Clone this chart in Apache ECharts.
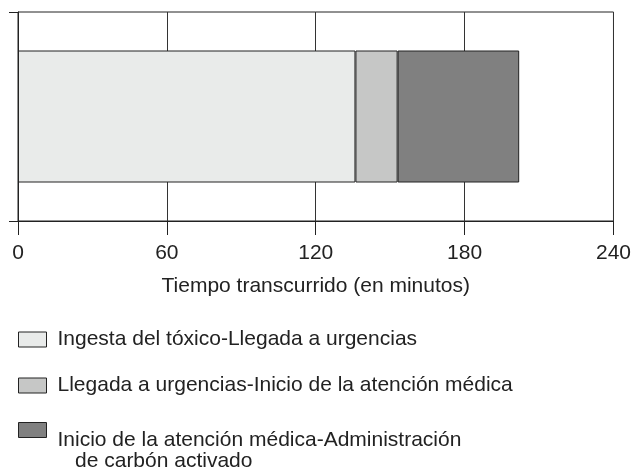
<!DOCTYPE html>
<html>
<head>
<meta charset="utf-8">
<title>Tiempo transcurrido</title>
<script src="https://cdn.jsdelivr.net/npm/echarts@6/dist/echarts.min.js"></script>
<style>
  html, body { margin: 0; padding: 0; background: #fff; }
  #chart { width: 634px; height: 471px; }
</style>
</head>
<body>
<div id="chart"></div>
<script>
// datos (minutos)
var categories = [''];
var tramoNames = [
  'Ingesta del tóxico-Llegada a urgencias',
  'Llegada a urgencias-Inicio de la atención médica',
  'Inicio de la atención médica-Administración'
];
var segundaLinea = '   de carbón activado';
var ingestaLlegada = [136];
var llegadaInicio = [17];
var inicioCarbon = [49];
var xTicks = [0, 60, 120, 180, 240];

var colors = ['#e9ebea', '#c6c7c6', '#808080'];
var font = 'Liberation Sans, Arial, sans-serif';
var ink = '#222';

var chart = echarts.init(document.getElementById('chart'));

function serie(name, data, color) {
  return {
    name: name,
    type: 'bar',
    stack: 'tiempo',
    barWidth: 132,
    data: data,
    itemStyle: { color: color, borderColor: ink, borderWidth: 1 },
    silent: true
  };
}

function leyenda(name, top, formatter) {
  var l = {
    data: [name],
    orient: 'vertical',
    left: 18,
    top: top,
    padding: 0,
    icon: 'rect',
    itemWidth: 28,
    itemHeight: 15,
    selectedMode: false,
    itemStyle: { borderColor: ink, borderWidth: 1 },
    textStyle: {
      fontFamily: font, fontSize: 21, color: ink,
      lineHeight: 21, padding: [0, 0, 0, 6],
      rich: { s: { lineHeight: 42, fontSize: 21 } }
    }
  };
  if (formatter) l.formatter = formatter;
  return l;
}

var option = {
  animation: false,
  backgroundColor: '#fff',
  grid: {
    left: 18, right: 18, top: 12, bottom: 250,
    show: true, borderColor: ink, borderWidth: 1
  },
  xAxis: {
    type: 'value',
    min: xTicks[0],
    max: xTicks[xTicks.length - 1],
    interval: 60,
    name: 'Tiempo transcurrido (en minutos)',
    nameLocation: 'middle',
    nameGap: 55,
    nameTextStyle: { fontFamily: font, fontSize: 21, color: ink },
    axisLine: { show: true, lineStyle: { color: ink, width: 1 } },
    axisTick: { show: true, length: 14, lineStyle: { color: ink } },
    axisLabel: { fontFamily: font, fontSize: 21, color: ink, margin: 22 },
    splitLine: { show: true, lineStyle: { color: '#333', width: 1 } }
  },
  yAxis: {
    type: 'category',
    data: categories,
    axisLine: { show: true, lineStyle: { color: ink, width: 1 } },
    axisTick: { show: true, length: 9, lineStyle: { color: ink } },
    axisLabel: { show: false },
    splitLine: { show: false }
  },
  legend: [
    leyenda(tramoNames[0], 329),
    leyenda(tramoNames[1], 375),
    leyenda(tramoNames[2], 388, function (name) {
      return '{s| }\n' + name + '\n' + segundaLinea;
    })
  ],
  series: [
    serie(tramoNames[0], ingestaLlegada, colors[0]),
    serie(tramoNames[1], llegadaInicio, colors[1]),
    serie(tramoNames[2], inicioCarbon, colors[2])
  ]
};

chart.setOption(option);
</script>
</body>
</html>
